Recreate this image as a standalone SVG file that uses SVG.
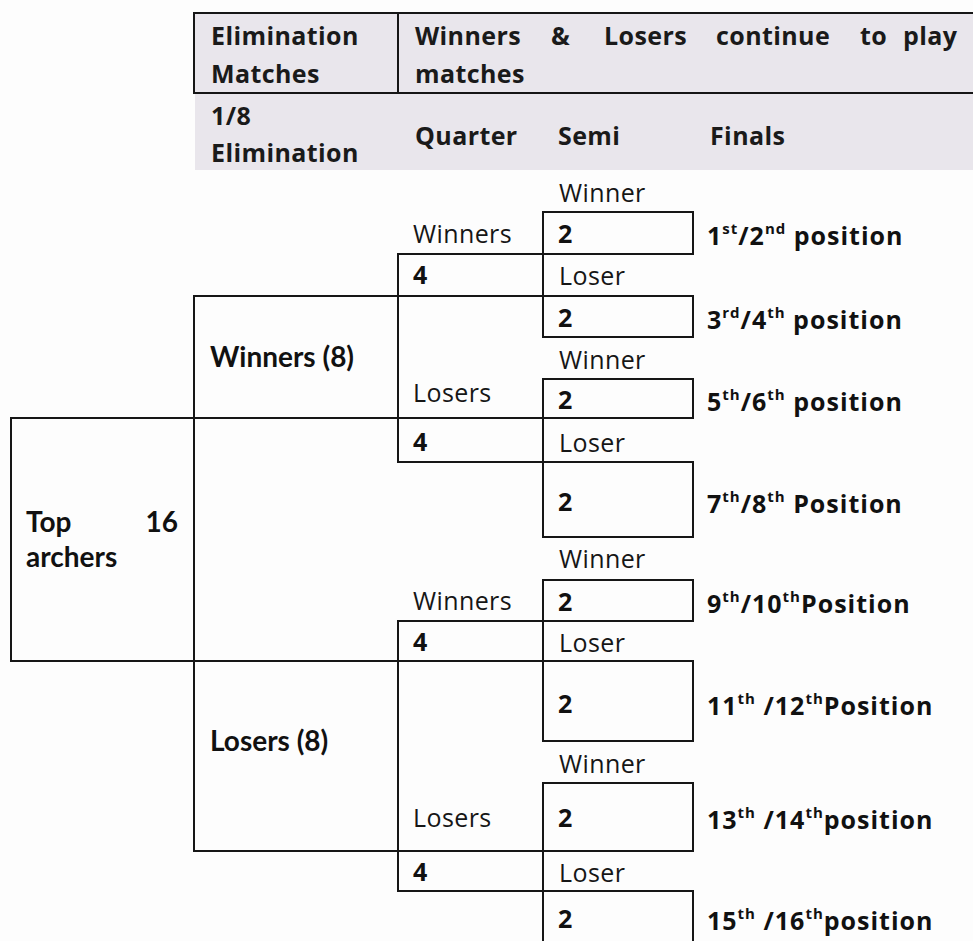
<svg xmlns="http://www.w3.org/2000/svg" width="973" height="941" viewBox="0 0 973 941">
<style>
.bx{fill:none;stroke:#161616;stroke-width:2}
.hb{fill:#e9e6ec;stroke:#161616;stroke-width:2}
.hd{font-family:"Open Sans","Liberation Sans",sans-serif;font-weight:700;font-size:25px;letter-spacing:0.4px;fill:#1a1a1a}
.bb{font-family:Lato,"Liberation Sans",sans-serif;font-weight:700;font-size:28px;fill:#111}
.dg{font-family:"Open Sans","Liberation Sans",sans-serif;font-weight:700;font-size:25px;fill:#111}
.rg{font-family:"Open Sans","Liberation Sans",sans-serif;font-weight:400;font-size:25px;letter-spacing:0.4px;fill:#161616}
.ps{font-family:"Open Sans","Liberation Sans",sans-serif;font-weight:700;font-size:25px;letter-spacing:1px;fill:#111}
.sp{font-size:15px}
</style>
<rect x="0" y="0" width="973" height="941" fill="#fdfdfd"/>
<g id="header">
<rect x="194" y="13" width="790" height="80" class="hb"/>
<line x1="398" y1="13" x2="398" y2="93" stroke="#161616" stroke-width="2"/>
<rect x="195" y="94" width="778" height="76" fill="#e9e6ec"/>
<text class="hd" x="211" y="45">Elimination</text>
<text class="hd" x="211" y="83">Matches</text>
<text class="hd" x="415" y="45">Winners</text>
<text class="hd" x="551" y="45">&amp;</text>
<text class="hd" x="604" y="45">Losers</text>
<text class="hd" x="716" y="45">continue</text>
<text class="hd" x="860" y="45">to</text>
<text class="hd" x="903" y="45">play</text>
<text class="hd" x="415" y="83">matches</text>
<text class="hd" x="211" y="125">1/8</text>
<text class="hd" x="211" y="162">Elimination</text>
<text class="hd" x="415" y="145">Quarter</text>
<text class="hd" x="558" y="145">Semi</text>
<text class="hd" x="710" y="145">Finals</text>
</g>
<g id="connectors"></g>
<g id="top16">
<rect class="bx" x="11" y="418" width="183" height="243"/>
<text class="bb" x="26" y="532">Top</text>
<text class="bb" x="178" y="532" text-anchor="end">16</text>
<text class="bb" x="26" y="567">archers</text>
</g>
<g id="winners8">
<rect class="bx" x="194" y="296" width="204" height="122"/>
<text class="bb" x="210" y="367">Winners (8)</text>
</g>
<g id="losers8">
<rect class="bx" x="194" y="661" width="204" height="190"/>
<text class="bb" x="210" y="751">Losers (8)</text>
</g>
<g id="q1">
<rect class="bx" x="398" y="254" width="145" height="42"/>
<text class="dg" x="413" y="284">4</text>
<text class="rg" x="413" y="243">Winners</text>
</g>
<g id="q2">
<rect class="bx" x="398" y="418" width="145" height="44"/>
<text class="dg" x="413" y="451">4</text>
<text class="rg" x="413" y="402">Losers</text>
</g>
<g id="q3">
<rect class="bx" x="398" y="621" width="145" height="40"/>
<text class="dg" x="413" y="651">4</text>
<text class="rg" x="413" y="610">Winners</text>
</g>
<g id="q4">
<rect class="bx" x="398" y="851" width="145" height="40"/>
<text class="dg" x="413" y="881">4</text>
<text class="rg" x="413" y="827">Losers</text>
</g>
<g id="s1">
<text class="rg" x="559" y="202">Winner</text>
<rect class="bx" x="543" y="212" width="150" height="42"/>
<text class="dg" x="558" y="243">2</text>
<text class="ps" x="707" y="245">1<tspan class="sp" dy="-11">st</tspan><tspan dy="11">/2</tspan><tspan class="sp" dy="-11">nd</tspan><tspan dy="11"> position</tspan></text>
</g>
<g id="s2">
<text class="rg" x="559" y="285">Loser</text>
<rect class="bx" x="543" y="296" width="150" height="41"/>
<text class="dg" x="558" y="327">2</text>
<text class="ps" x="707" y="329">3<tspan class="sp" dy="-11">rd</tspan><tspan dy="11">/4</tspan><tspan class="sp" dy="-11">th</tspan><tspan dy="11"> position</tspan></text>
</g>
<g id="s3">
<text class="rg" x="559" y="369">Winner</text>
<rect class="bx" x="543" y="379" width="150" height="39"/>
<text class="dg" x="558" y="409">2</text>
<text class="ps" x="707" y="411">5<tspan class="sp" dy="-11">th</tspan><tspan dy="11">/6</tspan><tspan class="sp" dy="-11">th</tspan><tspan dy="11"> position</tspan></text>
</g>
<g id="s4">
<text class="rg" x="559" y="452">Loser</text>
<rect class="bx" x="543" y="462" width="150" height="75"/>
<text class="dg" x="558" y="511">2</text>
<text class="ps" x="707" y="513">7<tspan class="sp" dy="-11">th</tspan><tspan dy="11">/8</tspan><tspan class="sp" dy="-11">th</tspan><tspan dy="11"> Position</tspan></text>
</g>
<g id="s5">
<text class="rg" x="559" y="568">Winner</text>
<rect class="bx" x="543" y="580" width="150" height="41"/>
<text class="dg" x="558" y="611">2</text>
<text class="ps" x="707" y="613">9<tspan class="sp" dy="-11">th</tspan><tspan dy="11">/10</tspan><tspan class="sp" dy="-11">th</tspan><tspan dy="11">Position</tspan></text>
</g>
<g id="s6">
<text class="rg" x="559" y="652">Loser</text>
<rect class="bx" x="543" y="661" width="150" height="80"/>
<text class="dg" x="558" y="713">2</text>
<text class="ps" x="707" y="715">11<tspan class="sp" dy="-11">th</tspan><tspan dy="11"> /12</tspan><tspan class="sp" dy="-11">th</tspan><tspan dy="11">Position</tspan></text>
</g>
<g id="s7">
<text class="rg" x="559" y="773">Winner</text>
<rect class="bx" x="543" y="783" width="150" height="68"/>
<text class="dg" x="558" y="827">2</text>
<text class="ps" x="707" y="829">13<tspan class="sp" dy="-11">th</tspan><tspan dy="11"> /14</tspan><tspan class="sp" dy="-11">th</tspan><tspan dy="11">position</tspan></text>
</g>
<g id="s8">
<text class="rg" x="559" y="882">Loser</text>
<rect class="bx" x="543" y="891" width="150" height="60"/>
<text class="dg" x="558" y="928">2</text>
<text class="ps" x="707" y="930">15<tspan class="sp" dy="-11">th</tspan><tspan dy="11"> /16</tspan><tspan class="sp" dy="-11">th</tspan><tspan dy="11">position</tspan></text>
</g>
</svg>
